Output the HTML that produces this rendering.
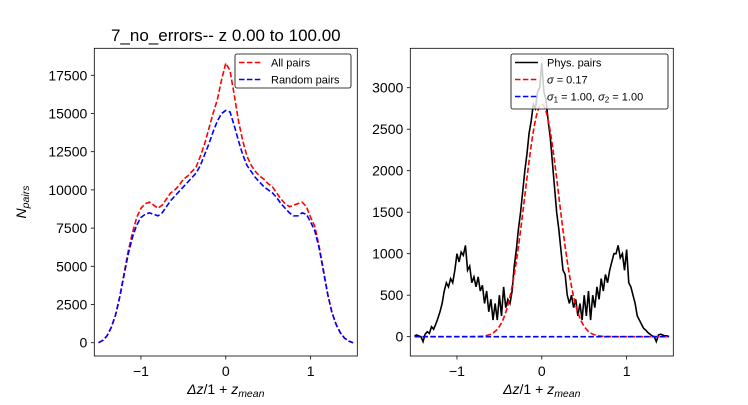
<!DOCTYPE html>
<html><head><meta charset="utf-8"><style>
body{margin:0;background:#fff}
svg text{font-family:"Liberation Sans","DejaVu Sans",sans-serif;fill:#000}
</style></head><body>
<svg id="fig" width="748" height="400" viewBox="0 0 748 400" xmlns="http://www.w3.org/2000/svg">
<rect width="748" height="400" fill="#fff"/>
<g id="left"></g>
<g id="right"></g>
</svg>
<script>
const allPairs=[0,150,450,1000,1800,3000,4500,6000,7200,8200,8800,9100,9200,9000,8800,9000,9400,9800,10000,10300,10700,10900,11200,11500,12200,13000,14000,15000,15900,17200,18300,17800,16200,14500,13200,12200,11600,11200,10900,10700,10400,10200,9800,9400,9100,8900,9000,9100,9200,8900,8200,7600,6300,4800,3200,2000,1200,650,300,100,0];
const randomPairs=[0,150,450,1000,1800,3000,4400,5800,6900,7700,8200,8400,8500,8400,8300,8500,8900,9300,9600,9900,10200,10500,10800,11100,11600,12300,13000,13800,14500,15000,15200,15100,14200,13200,12300,11600,11200,10800,10500,10200,10000,9800,9500,9100,8800,8500,8300,8300,8500,8400,7900,7300,6200,4700,3200,2000,1200,650,300,100,0];
const physPairs=[10,20,10,0,-60,30,60,40,120,90,150,220,300,400,550,650,600,700,650,800,1000,900,1020,980,1100,800,850,650,720,600,720,550,620,400,550,300,450,200,400,200,500,250,600,350,450,400,550,850,1050,1300,1500,1750,2000,2200,2450,2600,2800,2750,2950,3000,3300,2950,2850,2600,2400,2100,1800,1500,1300,1050,800,750,500,400,500,350,450,250,400,200,500,250,550,200,500,350,600,450,700,550,750,650,800,900,1000,1000,1100,950,1000,800,1050,650,600,500,400,250,200,150,100,80,50,30,10,0,-60,20,30,20,10,10,0];
const fitSigma=[0.2];
const fitAmp=[2800];
const bgAmp=[0];
const xTicks=[-1,0,1];
const leftYTicks=[0,2500,5000,7500,10000,12500,15000,17500];
const rightYTicks=[0,500,1000,1500,2000,2500,3000];

const NS="http://www.w3.org/2000/svg";
function mk(p,t,a){const e=document.createElementNS(NS,t);for(const k in a)e.setAttribute(k,a[k]);p.appendChild(e);return e;}
function panel(g,x0,x1,yTop,yBot,ymin,ymax,yt,name){
  const X=v=>x0+(v+1.55)/3.1*(x1-x0);
  const Y=v=>yBot-(v-ymin)/(ymax-ymin)*(yBot-yTop);
  const fr=mk(g,'rect',{x:x0,y:yTop,width:x1-x0,height:yBot-yTop,fill:'none',stroke:'#000','stroke-width':0.8});
  
  
  xTicks.forEach(t=>{const x=X(t);mk(g,'line',{x1:x,x2:x,y1:yBot,y2:yBot+3.5,stroke:'#000','stroke-width':0.8});
    const tx=mk(g,'text',{x:x,y:yBot+20,'text-anchor':'middle','font-size':14});tx.textContent=t<0?'\u22121':String(t);
    
    });
  yt.forEach(t=>{const y=Y(t);mk(g,'line',{x1:x0,x2:x0-3.5,y1:y,y2:y,stroke:'#000','stroke-width':0.8});
    const tx=mk(g,'text',{x:x0-7,y:y+5,'text-anchor':'end','font-size':14});tx.textContent=String(t);
    
    });
  const xl=mk(g,'text',{x:(x0+x1)/2,y:yBot+38,'text-anchor':'middle','font-size':14});
  xl.innerHTML='<tspan font-style="italic">Δz</tspan>/1 + <tspan font-style="italic">z</tspan><tspan font-size="10.5" dy="3" font-style="italic">mean</tspan>';
  
  
  return {X,Y};
}
function line(g,xs,ys,X,Y,color,dash,name){
  const d=xs.map((x,i)=>(i?'L':'M')+X(x).toFixed(2)+','+Y(ys[i]).toFixed(2)).join('');
  const p=mk(g,'path',{d:d,fill:'none',stroke:color,'stroke-width':1.6});
  if(dash)p.setAttribute('stroke-dasharray','5.5,2.4');
  
  
}
const L=document.getElementById('left'),R=document.getElementById('right');
const a=panel(L,94.3,357.3,48.3,356,-870,19267,leftYTicks,'left');
const xs61=allPairs.map((_,i)=>-1.5+3*i/(allPairs.length-1));
line(L,xs61,allPairs,a.X,a.Y,'#f00',true,'all-pairs-line');
line(L,xs61,randomPairs,a.X,a.Y,'#00f',true,'random-pairs-line');
const ttl=mk(L,'text',{x:225.8,y:41,'text-anchor':'middle','font-size':17});ttl.textContent='7_no_errors-- z 0.00 to 100.00';


const yl=mk(L,'text',{x:0,y:0,'text-anchor':'middle','font-size':14,transform:'translate(26,202) rotate(-90)'});
yl.innerHTML='<tspan font-style="italic">N</tspan><tspan font-size="10.5" dy="3" font-style="italic">pairs</tspan>';


function legend(g,x,y,w,h,items,name){
  const lg=mk(g,'g',{});
  
  
  mk(lg,'rect',{x:x,y:y,width:w,height:h,rx:2,fill:'#fff','fill-opacity':0.8,stroke:'#000','stroke-width':0.8});
  items.forEach((it,i)=>{const yy=y+8.5+i*17;
    const ln=mk(lg,'line',{x1:x+4,x2:x+27,y1:yy,y2:yy,stroke:it.c,'stroke-width':1.6});
    if(it.d)ln.setAttribute('stroke-dasharray','5.5,2.4');
    const t=mk(lg,'text',{x:x+36,y:yy+4,'font-size':11});t.innerHTML=it.t;
    
    });
}
legend(L,235,54,116,34,[{c:'#f00',d:1,t:'All pairs'},{c:'#00f',d:1,t:'Random pairs'}],'left-legend');
const b=panel(R,410.3,673.3,48.3,356,-233,3475,rightYTicks,'right');
const xs121=physPairs.map((_,i)=>-1.5+3*i/(physPairs.length-1));
line(R,xs121,physPairs,b.X,b.Y,'#000',false,'phys-pairs-line');
const fx=[];for(let i=0;i<=300;i++)fx.push(-1.5+i*0.01);
line(R,fx,fx.map(x=>fitAmp[0]*Math.exp(-x*x/(2*fitSigma[0]*fitSigma[0]))),b.X,b.Y,'#f00',true,'gaussian-fit-line');
line(R,fx,fx.map(()=>bgAmp[0]),b.X,b.Y,'#00f',true,'background-fit-line');
legend(R,511,54,157,55,[{c:'#000',d:0,t:'Phys. pairs'},{c:'#f00',d:1,t:'<tspan font-style="italic">σ</tspan> =  0.17'},{c:'#00f',d:1,t:'<tspan font-style="italic">σ</tspan><tspan font-size="8" dy="2">1</tspan><tspan dy="-2"> =  1.00, </tspan><tspan font-style="italic">σ</tspan><tspan font-size="8" dy="2">2</tspan><tspan dy="-2"> =  1.00</tspan>'}],'right-legend');
</script>
</body></html>
